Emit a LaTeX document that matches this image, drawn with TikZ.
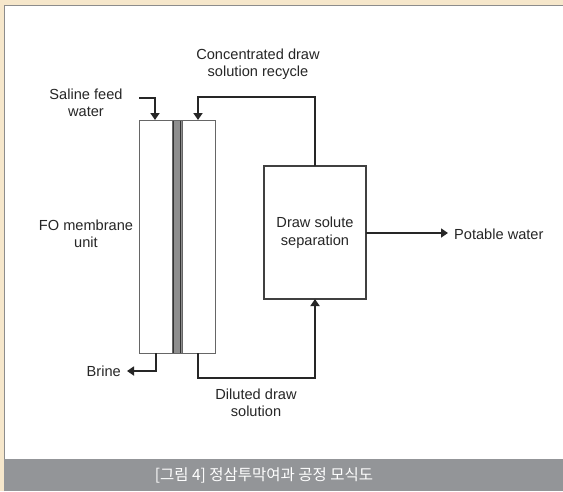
\documentclass[tikz,border=0pt]{standalone}
\usepackage{fontspec}
\setmainfont{Liberation Sans}
\newfontfamily\kr{Noto Sans CJK KR}
\usetikzlibrary{arrows.meta,calc}
\definecolor{beige}{HTML}{F6E7CB}
\definecolor{barg}{HTML}{939598}
\definecolor{edgeg}{HTML}{8C8C8C}
\definecolor{memb}{HTML}{8E8E8E}
\tikzset{
  lbl/.style={font=\fontsize{14.6}{17.5}\selectfont, align=center, inner sep=0pt, text=black!85},
  flow/.style={line width=2.7pt, draw=black!85, -{Triangle[length=7pt,width=9pt]}},
  unitbox/.style={draw=black!60, line width=1pt, fill=white, inner sep=0pt, outer sep=0pt, minimum width=76pt, minimum height=233pt},
  sepbox/.style={draw=black!75, line width=1.5pt, fill=white, inner sep=0pt, outer sep=0pt, minimum width=102pt, minimum height=133pt, font=\fontsize{14.6}{17.5}\selectfont, align=center, text=black!85},
}
\begin{document}
\begin{tikzpicture}[x=1pt,y=-1pt]
\useasboundingbox (0,0) rectangle (563,491);
% background
\fill[beige] (0,0) rectangle (563,491);
\fill[white] (4,5) rectangle (563,459);
\draw[edgeg, line width=1.2pt] (4.6,491) -- (4.6,5.6) -- (563,5.6);
\fill[barg] (4,459) rectangle (563,491);
\node[font=\kr\fontsize{15.5}{17}\selectfont, text=white, inner sep=0pt] (cap) at (264,475) {[그림 4] 정삼투막여과 공정 모식도};

% FO membrane unit
\node[unitbox] (fo) at (177,236.5) {};
\draw[black!60, line width=0.9pt] (172,120) -- (172,353) (182,120) -- (182,353);
\fill[memb] (172.5,120.5) rectangle (181.5,352.5);
\draw[black!80, line width=1.1pt] (173.5,120.5) -- (173.5,352.5) (180.5,120.5) -- (180.5,352.5);

% separation box
\node[sepbox] (sep) at (315,232.5) {Draw solute\\separation};

% labels
\node[lbl] (conc) at (258,64) {Concentrated draw\\solution recycle};
\node[lbl] (feed) at (86,103) {Saline feed\\water};
\node[lbl] (fol) at (86,234) {FO membrane\\unit};
\node[lbl] (dil) at (256,403) {Diluted draw\\solution};
\node[lbl, anchor=west] (pot) at (454,234) {Potable water};
\node[lbl, anchor=east] (brine) at (121,371) {Brine};

% coordinates
\coordinate (fs) at (139,98);
\coordinate (fin) at ($(fo.north west)+(16,0)$);
\coordinate (rc) at (198,97);
\coordinate (rin) at ($(fo.north west)+(59,0)$);
\coordinate (bout) at ($(fo.south west)+(17,0)$);
\coordinate (bend) at (127,371);
\coordinate (dout) at ($(fo.south west)+(59,0)$);
\coordinate (dl) at (315,378);
\coordinate (pend) at (448,233);

% connectors
\draw[flow] (fs) -| (fin);
\draw[flow] (sep.north) |- (rc) -- (rin);
\draw[flow] (sep.east |- pend) -- (pend);
\draw[flow] (bout) |- (bend);
\draw[flow] (dout) |- (dl) -- (sep.south);
\end{tikzpicture}
\end{document}
